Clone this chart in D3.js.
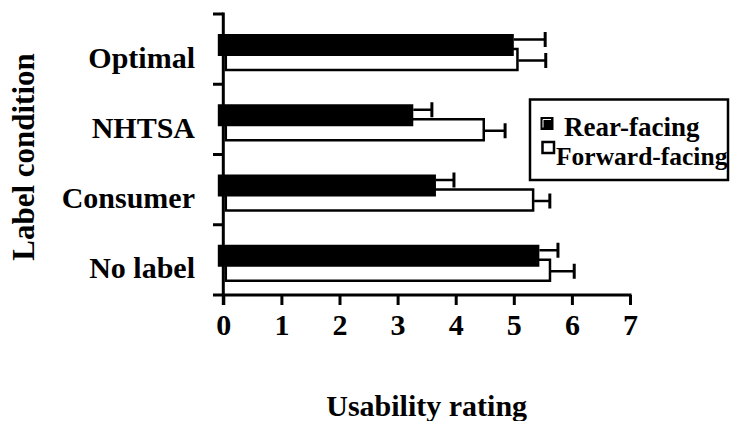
<!DOCTYPE html>
<html>
<head>
<meta charset="utf-8">
<script src="https://cdn.jsdelivr.net/npm/d3@7"></script>
<style>
  html, body { margin: 0; padding: 0; background: #fff; }
  svg { display: block; }
  text { font-family: "Liberation Serif", "Times New Roman", serif; font-weight: bold; fill: #000; }
</style>
</head>
<body>
<svg id="chart" width="730" height="421"></svg>
<script>
// Usability rating by label condition, rear- vs forward-facing seats
const categories = ["Optimal", "NHTSA", "Consumer", "No label"];
const rearValues = [5.0, 3.27, 3.66, 5.44];
const rearErrors = [0.54, 0.32, 0.31, 0.32];
const forwardValues = [5.08, 4.5, 5.35, 5.64];
const forwardErrors = [0.47, 0.35, 0.27, 0.40];
const xTicks = [0, 1, 2, 3, 4, 5, 6, 7];
const seriesNames = ["Rear-facing", "Forward-facing"];

const svg = d3.select("#chart");

const x = d3.scaleLinear().domain([0, 7]).range([223.3, 630]);
const y = d3.scaleBand().domain(categories).range([14, 295]).padding(0);
const step = y.step();

// white (forward-facing) bars
svg.selectAll("rect.fwd").data(categories).join("rect")
  .attr("class", "fwd")
  .attr("x", x(0) + 2.5)
  .attr("y", d => y(d) + 35)
  .attr("width", (d, i) => x(forwardValues[i]) - x(0) - 3.5)
  .attr("height", 21)
  .attr("fill", "#fff")
  .attr("stroke", "#000")
  .attr("stroke-width", 2.5);

// black (rear-facing) bars
svg.selectAll("rect.rear").data(categories).join("rect")
  .attr("class", "rear")
  .attr("x", x(0) - 5.5)
  .attr("y", d => y(d) + 20)
  .attr("width", (d, i) => x(rearValues[i]) - x(0) + 5.5)
  .attr("height", 22)
  .attr("fill", "#000");

// error bars
function errorBars(cls, vals, errs, dy) {
  const g = svg.append("g").attr("class", cls)
    .attr("stroke", "#000");
  categories.forEach((c, i) => {
    const yy = y(c) + dy;
    g.append("line")
      .attr("x1", x(vals[i])).attr("x2", x(vals[i] + errs[i]))
      .attr("y1", yy).attr("y2", yy)
      .attr("stroke-width", 2.5);
    g.append("line")
      .attr("x1", x(vals[i] + errs[i])).attr("x2", x(vals[i] + errs[i]))
      .attr("y1", yy - 7.5).attr("y2", yy + 7.5)
      .attr("stroke-width", 3);
  });
}
errorBars("err-rear", rearValues, rearErrors, 25.5);
errorBars("err-fwd", forwardValues, forwardErrors, 46.5);

// x axis
const xAxis = svg.append("g")
  .attr("transform", "translate(0,295)")
  .call(d3.axisBottom(x).tickValues(xTicks).tickSize(10).tickPadding(9).tickFormat(d3.format("d")));
xAxis.select(".domain").remove();
xAxis.selectAll(".tick line").attr("stroke", "#000").attr("stroke-width", 3);
xAxis.selectAll(".tick text")
  .style("font-size", "30px")
  .style("font-family", "'Liberation Serif', serif")
  .style("font-weight", "bold");
svg.append("line")
  .attr("x1", 213).attr("x2", x(7) + 1.5)
  .attr("y1", 295).attr("y2", 295)
  .attr("stroke", "#000").attr("stroke-width", 3);

// y axis line and category boundary ticks
svg.append("line")
  .attr("x1", x(0)).attr("x2", x(0))
  .attr("y1", 12.5).attr("y2", 305)
  .attr("stroke", "#000").attr("stroke-width", 3);
const boundaries = categories.map(c => y(c));
svg.selectAll("line.ytick").data(boundaries).join("line")
  .attr("class", "ytick")
  .attr("x1", 213).attr("x2", x(0))
  .attr("y1", d => d).attr("y2", d => d)
  .attr("stroke", "#000").attr("stroke-width", 3);

// category labels
svg.selectAll("text.cat").data(categories).join("text")
  .attr("class", "cat")
  .attr("x", 195)
  .attr("y", d => y(d) + step / 2 + 18.5)
  .attr("text-anchor", "end")
  .style("font-size", "30px")
  .text(d => d);

// axis titles
svg.append("text")
  .attr("transform", "translate(34,157) rotate(-90)")
  .attr("text-anchor", "middle")
  .style("font-size", "31px")
  .text("Label condition");
svg.append("text")
  .attr("x", x(3.5))
  .attr("y", 416)
  .attr("text-anchor", "middle")
  .style("font-size", "30px")
  .text("Usability rating");

// legend
const legend = svg.append("g");
legend.append("rect")
  .attr("x", 530).attr("y", 99.5)
  .attr("width", 198).attr("height", 80.5)
  .attr("fill", "#fff").attr("stroke", "#000").attr("stroke-width", 2.5);
legend.append("rect")
  .attr("x", 541).attr("y", 117.5).attr("width", 12).attr("height", 12)
  .attr("fill", "#000").attr("stroke", "#000").attr("stroke-width", 1);
legend.append("path")
  .attr("d", "M543,127.5 V119.5 H551")
  .attr("fill", "none").attr("stroke", "#fff").attr("stroke-width", 1);
legend.append("rect")
  .attr("x", 542.5).attr("y", 142).attr("width", 11.5).attr("height", 11)
  .attr("fill", "#fff").attr("stroke", "#000").attr("stroke-width", 2.5);
legend.append("text")
  .attr("x", 564).attr("y", 136)
  .style("font-size", "27px")
  .text(seriesNames[0]);
legend.append("text")
  .attr("x", 556).attr("y", 165)
  .style("font-size", "25.5px")
  .text(seriesNames[1]);
</script>
</body>
</html>
